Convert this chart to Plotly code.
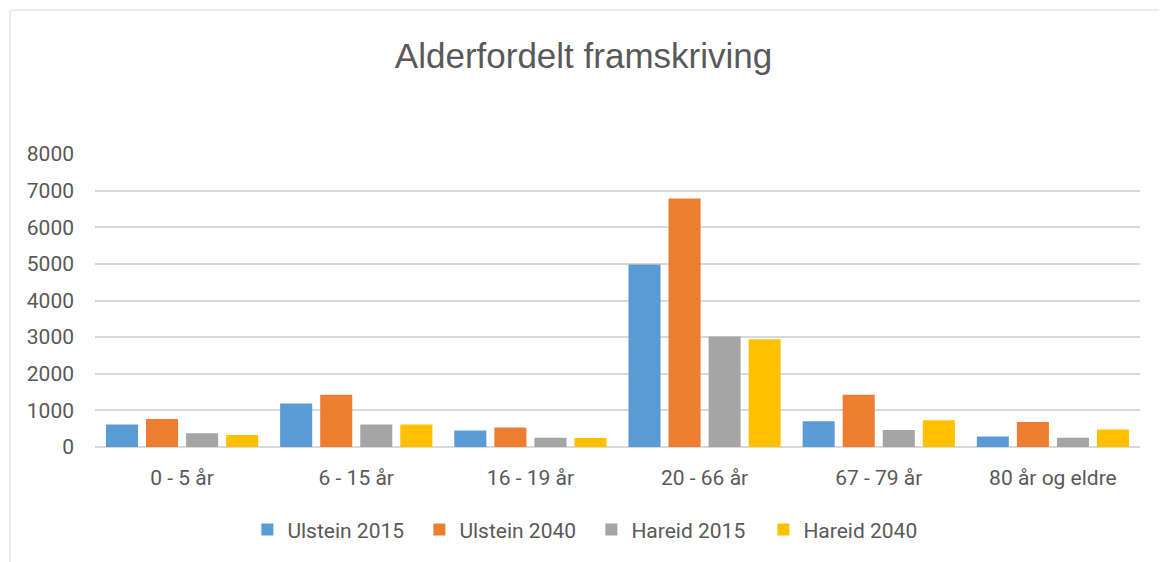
import plotly.graph_objects as go

categories = ["0 - 5 år", "6 - 15 år", "16 - 19 år", "20 - 66 år", "67 - 79 år", "80 år og eldre"]
ulstein_2015 = [617, 1187, 449, 4982, 701, 290]
ulstein_2040 = [766, 1430, 533, 6782, 1430, 682]
hareid_2015 = [374, 617, 252, 3018, 467, 252]
hareid_2040 = [327, 617, 243, 2945, 729, 477]
series_names = ["Ulstein 2015", "Ulstein 2040", "Hareid 2015", "Hareid 2040"]
colors = ["#5B9BD5", "#ED7D31", "#A5A5A5", "#FFC000"]
y_ticks = [0, 1000, 2000, 3000, 4000, 5000, 6000, 7000, 8000]

NARROW = "Liberation Sans Narrow, Arial Narrow, sans-serif"
TICKF = "Roboto, Liberation Sans, sans-serif"
TXT = "#595959"

fig = go.Figure()
for name, vals, col in zip(series_names, [ulstein_2015, ulstein_2040, hareid_2015, hareid_2040], colors):
    fig.add_trace(go.Bar(name=name, x=categories, y=vals, marker=dict(color=col, line=dict(width=0))))

fig.update_layout(
    width=1151, height=600,
    margin=dict(l=87, r=19, t=146, b=161),
    paper_bgcolor="white", plot_bgcolor="white",
    barmode="group", bargap=0.08, bargroupgap=0.2,
    font=dict(family=TICKF, color=TXT, size=21),
    title=dict(text="Alderfordelt framskriving", x=0.5, xanchor="center", y=0.92, yanchor="middle",
               font=dict(family=NARROW, size=35, color=TXT)),
    showlegend=True,
    legend=dict(orientation="h", x=0.475, xanchor="center", y=-0.283, yanchor="middle",
                font=dict(family=TICKF, size=21, color=TXT), traceorder="normal",
                itemwidth=30, entrywidth=127, entrywidthmode="pixels"),
    xaxis=dict(showgrid=False, showline=False, ticks="", tickfont=dict(family=TICKF, size=21, color=TXT),
               ticklabelstandoff=16),
    yaxis=dict(range=[0, 8000], tickvals=y_ticks, showgrid=True, gridcolor="#D9D9D9", gridwidth=1.5,
               zeroline=True, zerolinecolor="#D9D9D9", zerolinewidth=2, showline=False, ticks="",
               tickfont=dict(family=TICKF, size=21, color=TXT), ticklabelstandoff=20),
    shapes=[dict(type="rect", xref="paper", yref="paper", x0=-0.0813, x1=1.1, y0=-0.7, y1=1.491,
                 line=dict(color="#D9D9D9", width=1), fillcolor="rgba(0,0,0,0)", layer="below")],
)

fig.write_html("out.html")
